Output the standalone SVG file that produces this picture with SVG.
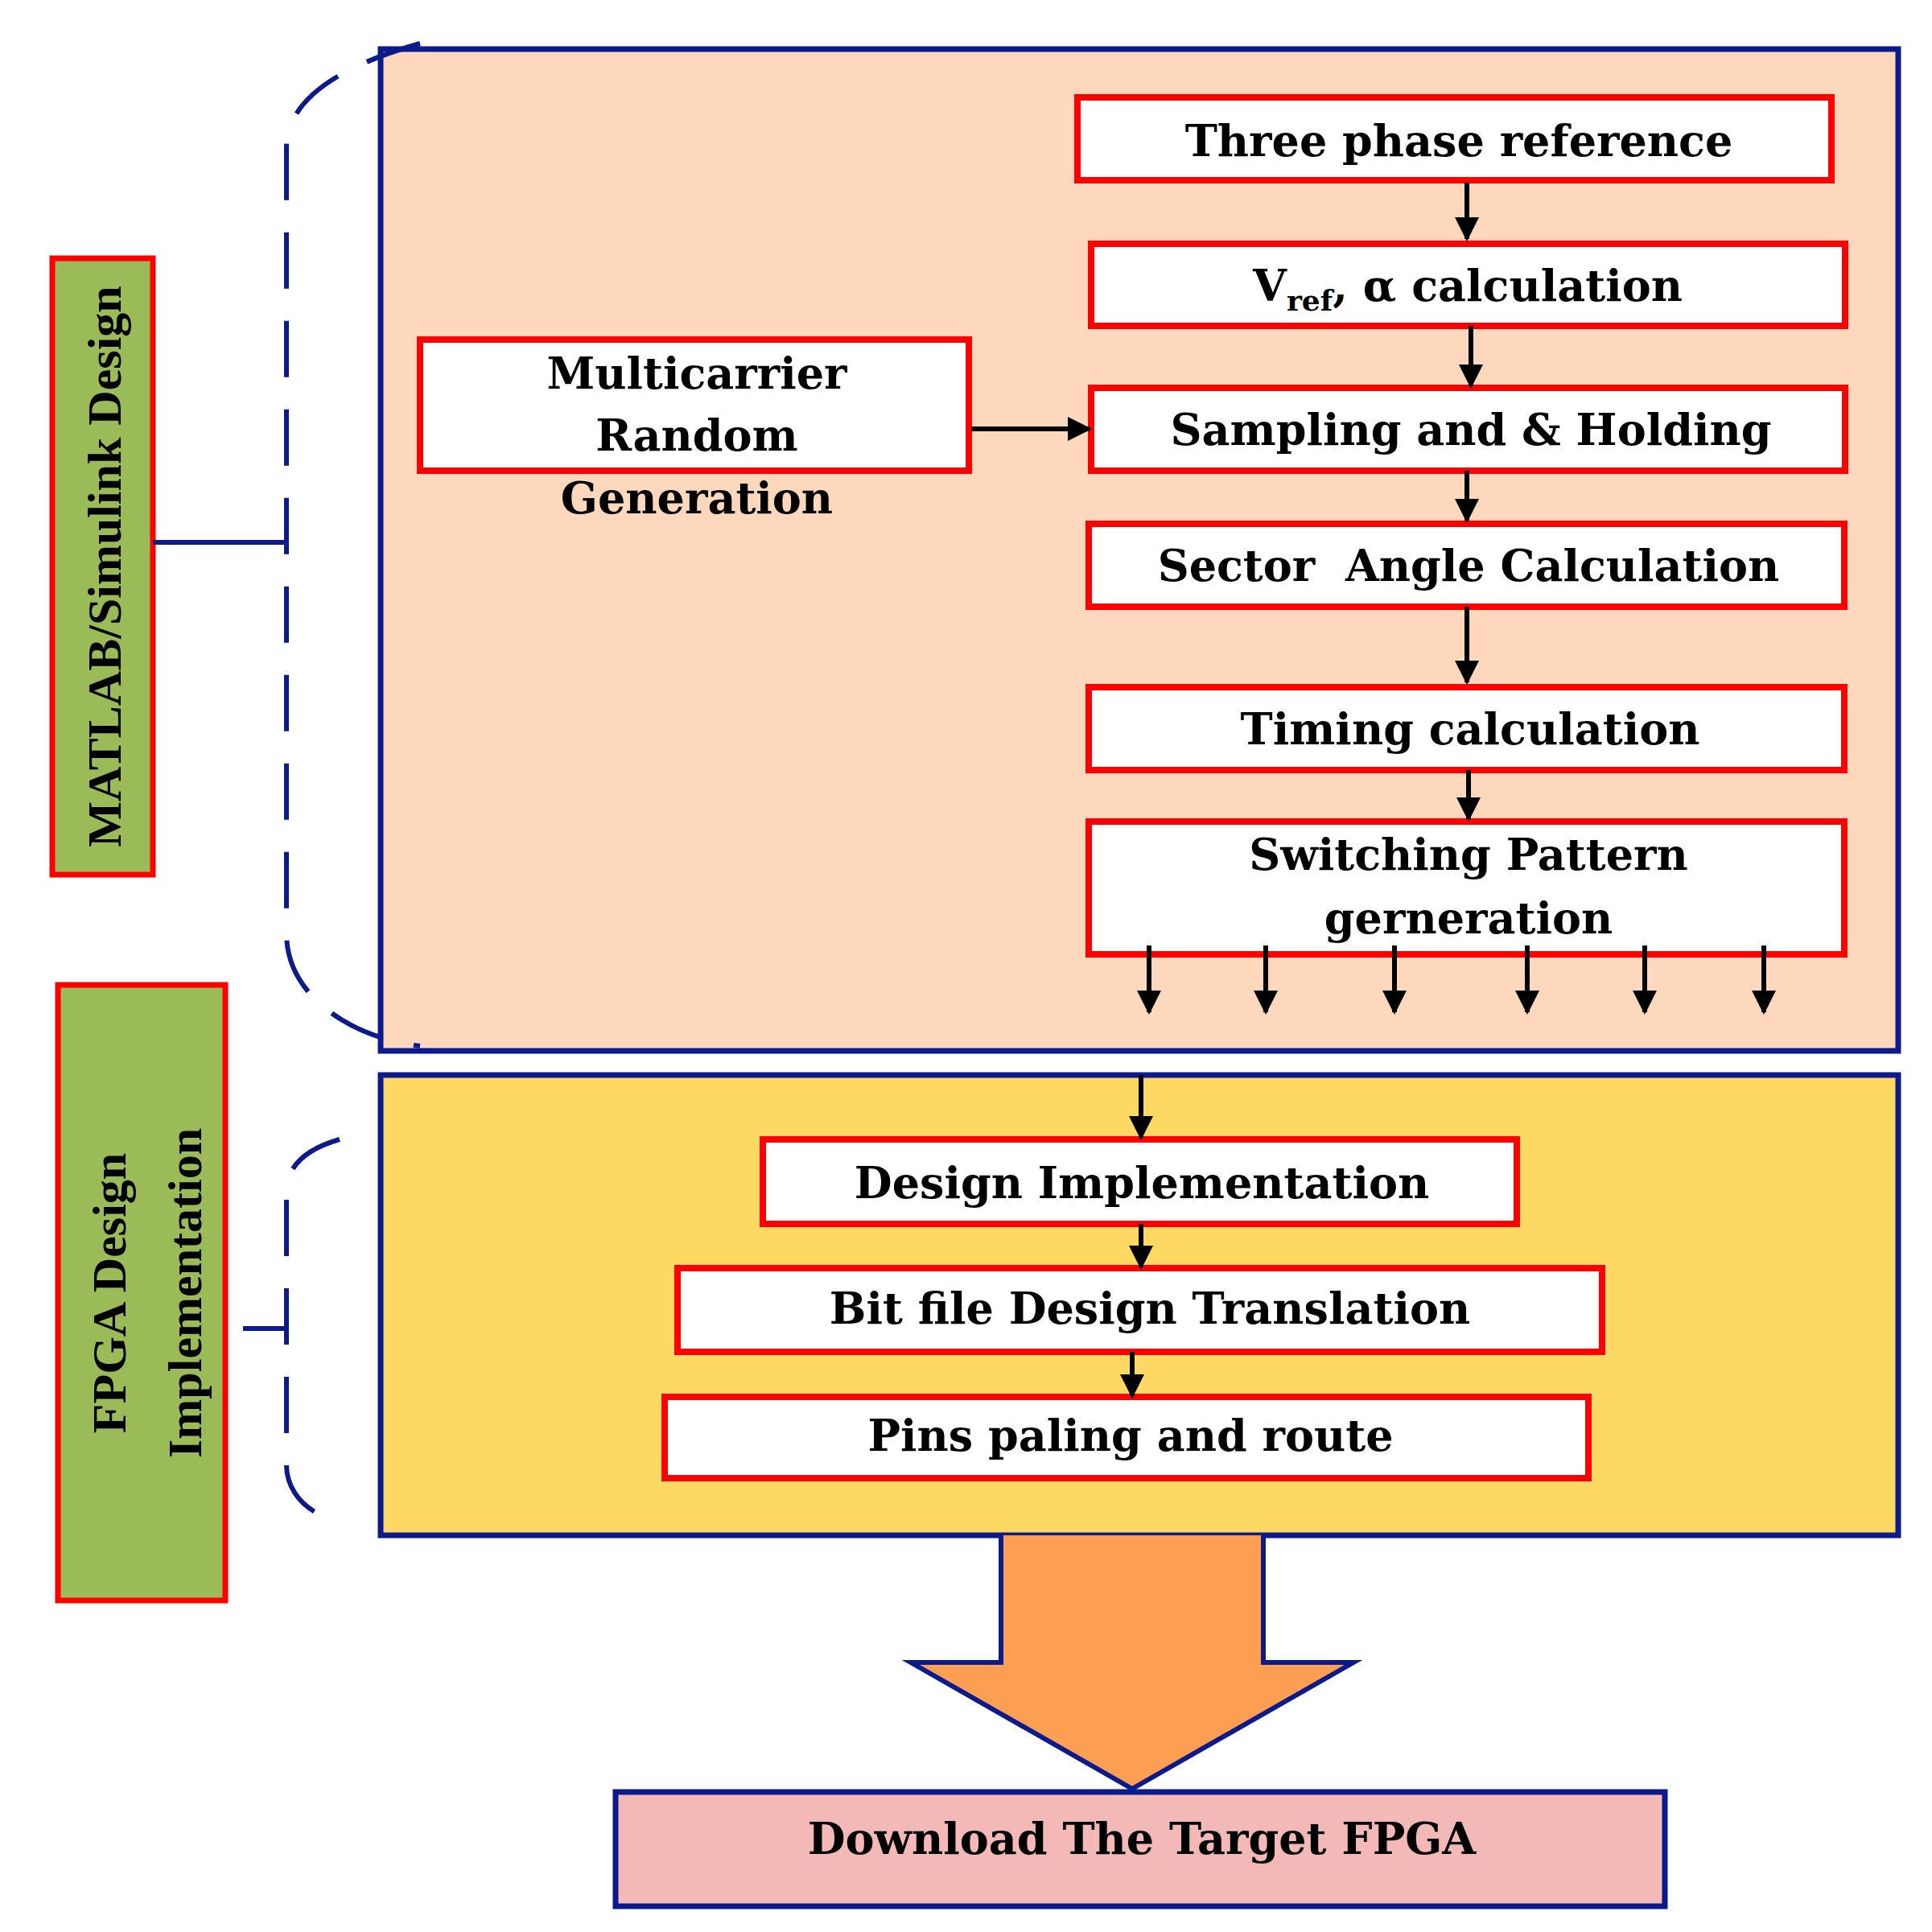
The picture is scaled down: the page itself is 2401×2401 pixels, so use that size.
<svg xmlns="http://www.w3.org/2000/svg" width="2401" height="2401" viewBox="0 0 2401 2401">
<style>
.t{font-family:"DejaVu Serif","Liberation Serif",serif;font-weight:bold;font-size:54px;text-anchor:middle;fill:#000}
.v{font-family:"Liberation Serif",serif;font-weight:bold;font-size:60px;text-anchor:middle;fill:#000}
.b{fill:#fff;stroke:#f00;stroke-width:8}
.c line{stroke:#000;stroke-width:6;marker-end:url(#ah)}
.nv{fill:none;stroke:#0d1a8c;stroke-width:6}
</style>
<defs><marker id="ah" markerWidth="10" markerHeight="10" refX="8" refY="5" orient="auto" markerUnits="userSpaceOnUse" viewBox="0 0 10 10"><path d="M0,0L10,5L0,10z" fill="#000" transform="scale(1)"/></marker>
<marker id="a2" viewBox="0 0 10 10" refX="9" refY="5" markerWidth="30" markerHeight="30" orient="auto" markerUnits="userSpaceOnUse"><path d="M0,0L10,5L0,10z" fill="#000"/></marker></defs>
<rect x="473" y="61" width="1886" height="1245" fill="#fdd8bc" stroke="#0d1a8c" stroke-width="7"/>
<rect x="473" y="1336" width="1886" height="572" fill="#fdd862" stroke="#0d1a8c" stroke-width="7"/>
<path d="M1244,1908V2066H1132L1407,2223L1682,2066H1570V1908" fill="#fd9f52" stroke="#0d1a8c" stroke-width="6"/>
<g id="download"><rect x="765" y="2227" width="1304" height="142" fill="#f2b9b7" stroke="#0d1a8c" stroke-width="7"/><text class="t" x="1419" y="2304" font-size="78">Download The Target FPGA</text></g>
<g id="matlab"><rect x="65" y="321" width="125" height="766" fill="#9bbb59" stroke="#f00" stroke-width="7"/><text class="v" transform="translate(150,704) rotate(-90)">MATLAB/Simulink Design</text></g>
<g id="fpga"><rect x="72" y="1224" width="208" height="765" fill="#9bbb59" stroke="#f00" stroke-width="7"/><text class="v" transform="translate(156,1607) rotate(-90)">FPGA Design</text><text class="v" transform="translate(250,1607) rotate(-90)">Implementation</text></g>
<g id="braces">
<path class="nv" stroke-dasharray="70,40" d="M522,54C430,80 356,120 356,184V1160C356,1240 440,1290 522,1300"/>
<line class="nv" x1="190" y1="674" x2="356" y2="674"/>
<path class="nv" stroke-dasharray="70,40" d="M422,1416C380,1428 356,1450 356,1480V1820C356,1860 390,1885 422,1890"/>
<line class="nv" x1="302" y1="1651" x2="356" y2="1651"/>
</g>
<g id="n1"><rect class="b" x="1339" y="121" width="937" height="103"/><text class="t" x="1813" y="194">Three phase reference</text></g>
<g id="n2"><rect class="b" x="1356" y="303" width="937" height="102"/><text class="t" x="1824" y="374">V<tspan font-size="36" dy="12">ref</tspan><tspan dy="-12">, α calculation</tspan></text></g>
<g id="n3"><rect class="b" x="1356" y="482" width="937" height="103"/><text class="t" x="1828" y="553">Sampling and &amp; Holding</text></g>
<g id="n4"><rect class="b" x="1353" y="651" width="939" height="103"/><text class="t" x="1825" y="722" xml:space="preserve">Sector  Angle Calculation</text></g>
<g id="n5"><rect class="b" x="1353" y="854" width="939" height="103"/><text class="t" x="1827" y="925">Timing calculation</text></g>
<g id="n6"><rect class="b" x="1353" y="1021" width="939" height="165"/><text class="t" x="1825" y="1081">Switching Pattern</text><text class="t" x="1825" y="1160">gerneration</text></g>
<g id="n7"><rect class="b" x="522" y="422" width="682" height="163"/><text class="t" x="866" y="483">Multicarrier</text><text class="t" x="866" y="560">Random</text><text class="t" x="866" y="638">Generation</text></g>
<g id="n8"><rect class="b" x="948" y="1416" width="937" height="105"/><text class="t" x="1419" y="1489">Design Implementation</text></g>
<g id="n9"><rect class="b" x="842" y="1576" width="1149" height="104"/><text class="t" x="1429" y="1645">Bit file Design Translation</text></g>
<g id="n10"><rect class="b" x="826" y="1736" width="1148" height="101"/><text class="t" x="1405" y="1803">Pins paling and route</text></g>
<g id="connectors" stroke="#000" stroke-width="6">
<line x1="1823" y1="227" x2="1823" y2="297" marker-end="url(#a2)"/>
<line x1="1828" y1="405" x2="1828" y2="480" marker-end="url(#a2)"/>
<line x1="1823" y1="585" x2="1823" y2="647" marker-end="url(#a2)"/>
<line x1="1823" y1="754" x2="1823" y2="848" marker-end="url(#a2)"/>
<line x1="1825" y1="957" x2="1825" y2="1018" marker-end="url(#a2)"/>
<line x1="1207" y1="533" x2="1354" y2="533" marker-end="url(#a2)"/>
<line x1="1428" y1="1175" x2="1428" y2="1258" marker-end="url(#a2)"/>
<line x1="1573" y1="1175" x2="1573" y2="1258" marker-end="url(#a2)"/>
<line x1="1733" y1="1175" x2="1733" y2="1258" marker-end="url(#a2)"/>
<line x1="1898" y1="1175" x2="1898" y2="1258" marker-end="url(#a2)"/>
<line x1="2044" y1="1175" x2="2044" y2="1258" marker-end="url(#a2)"/>
<line x1="2192" y1="1175" x2="2192" y2="1258" marker-end="url(#a2)"/>
<line x1="1418" y1="1336" x2="1418" y2="1414" marker-end="url(#a2)"/>
<line x1="1418" y1="1521" x2="1418" y2="1575" marker-end="url(#a2)"/>
<line x1="1407" y1="1680" x2="1407" y2="1735" marker-end="url(#a2)"/>
</g>
</svg>
